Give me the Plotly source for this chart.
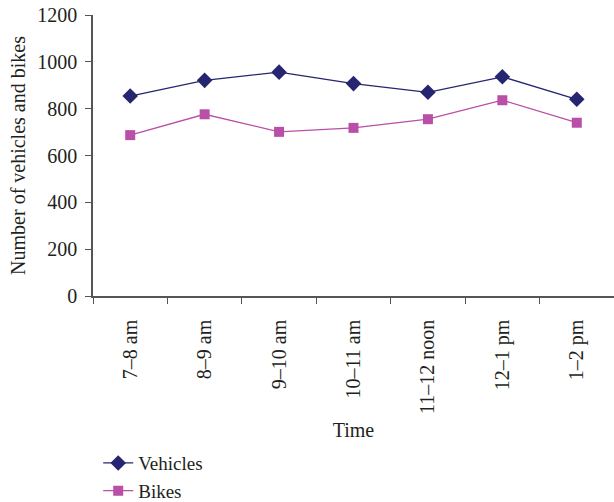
import plotly.graph_objects as go

times = ["7–8 am", "8–9 am", "9–10 am", "10–11 am", "11–12 noon", "12–1 pm", "1–2 pm"]
vehicles = [854, 921, 956, 907, 870, 936, 840]
bikes = [687, 776, 701, 718, 755, 836, 740]

FONT = "Liberation Serif, DejaVu Serif, serif"
fig = go.Figure()
fig.add_trace(go.Scatter(x=times, y=vehicles, name="Vehicles", mode="lines+markers",
                         line=dict(color="#25266f", width=1.3),
                         marker=dict(symbol="diamond", size=12, color="#25266f")))
fig.add_trace(go.Scatter(x=times, y=bikes, name="Bikes", mode="lines+markers",
                         line=dict(color="#b94fa6", width=1.3),
                         marker=dict(symbol="square", size=10, color="#b94fa6")))

fig.update_layout(
    width=614, height=502,
    margin=dict(l=93, r=0, t=15, b=206, autoexpand=False),
    plot_bgcolor="white", paper_bgcolor="white",
    font=dict(family=FONT, size=20, color="#231f20"),
    legend=dict(x=0.01, y=-0.527, xanchor="left", yanchor="top",
                font=dict(size=19), tracegroupgap=0, bgcolor="rgba(0,0,0,0)"),
    xaxis=dict(type="category", range=[-0.5, 6.5], showgrid=False, showline=True,
               linecolor="#555", linewidth=1.5, ticks="outside", tickson="boundaries",
               ticklen=6, tickcolor="#555", tickangle=-90, automargin=False,
               ticklabelstandoff=14,
               title=dict(text="Time", font=dict(size=20), standoff=10)),
    yaxis=dict(range=[0, 1200], dtick=200, showgrid=False, showline=True, zeroline=False,
               linecolor="#555", linewidth=1.5, ticks="outside", ticklen=6, tickcolor="#555",
               automargin=False, ticklabelstandoff=4, ticklabeloverflow="allow",
               title=dict(text="Number of vehicles and bikes", font=dict(size=20), standoff=6)),
)
fig.write_html("out.html", config={"displayModeBar": False},
               post_script="document.body.style.margin='0';document.body.style.overflow='hidden';")
